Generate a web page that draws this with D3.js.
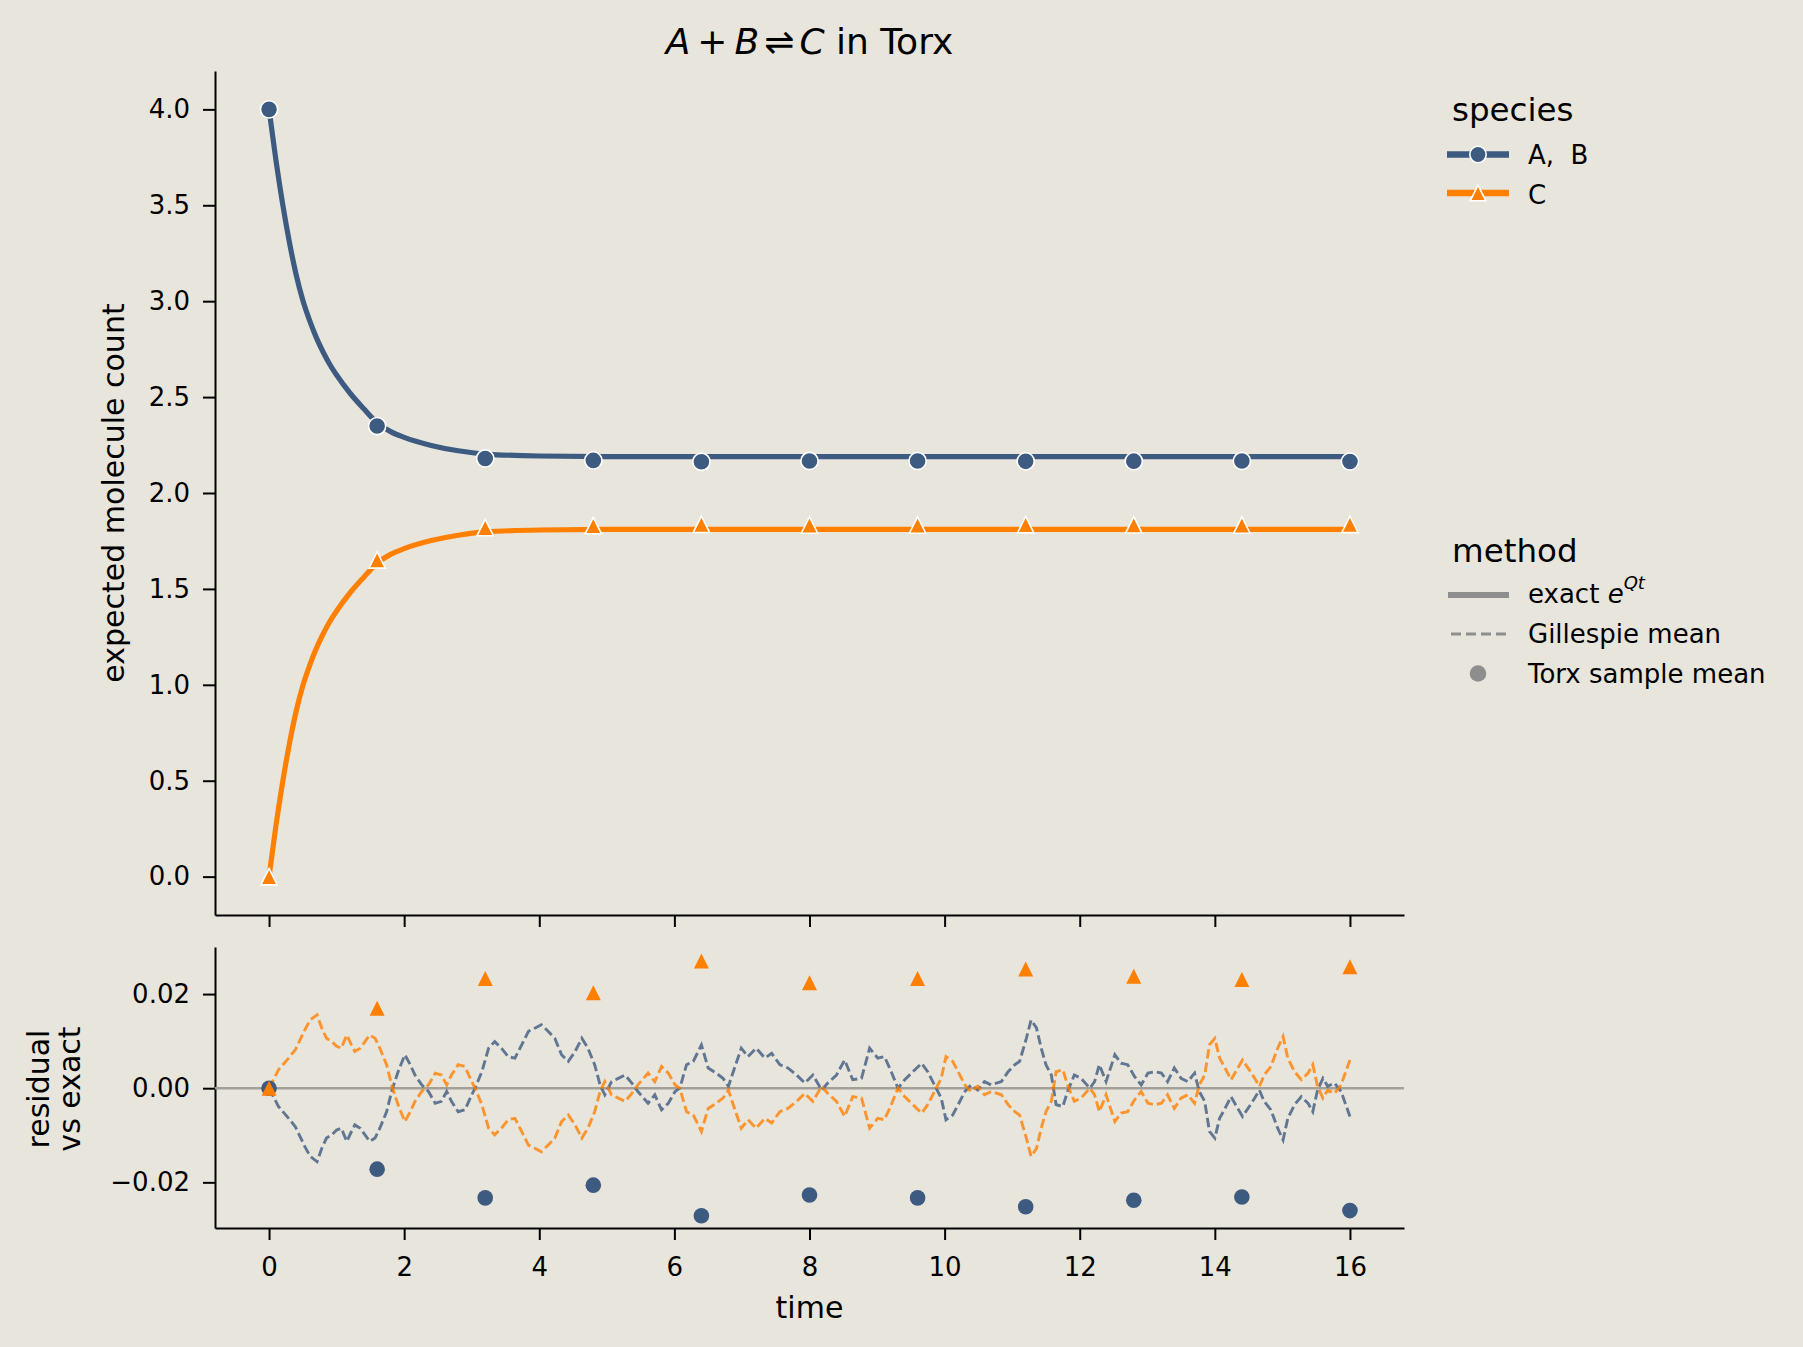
<!DOCTYPE html>
<html>
<head>
<meta charset="utf-8">
<script src="https://cdn.jsdelivr.net/npm/d3@7"></script>
<style>
  body { margin: 0; background: #e8e5dc; }
  svg text { font-family: "DejaVu Sans", sans-serif; fill: #000; }
</style>
</head>
<body>
<div class="chart"></div>
<script>
// ---- data ----
// exact e^{Qt} expectation
const exactT = [0, 0.1, 0.2, 0.3, 0.4, 0.5, 0.6, 0.7, 0.8, 0.9, 1.0, 1.2, 1.4, 1.6, 1.8, 2.0, 2.4, 2.8, 3.2, 4.0, 5.0, 6.0, 8.0, 10, 12, 14, 16];
const exactA = [4.0, 3.74, 3.51, 3.31, 3.14, 3.005, 2.90, 2.81, 2.735, 2.67, 2.615, 2.52, 2.44, 2.366, 2.32, 2.29, 2.248, 2.22, 2.203, 2.193, 2.19, 2.19, 2.19, 2.19, 2.19, 2.19, 2.19];
const exactC = [0.0, 0.26, 0.49, 0.69, 0.86, 0.995, 1.10, 1.19, 1.265, 1.33, 1.385, 1.48, 1.56, 1.634, 1.68, 1.71, 1.752, 1.78, 1.797, 1.807, 1.81, 1.81, 1.81, 1.81, 1.81, 1.81, 1.81];

// Torx sample means
const torxT = [0, 1.6, 3.2, 4.8, 6.4, 8.0, 9.6, 11.2, 12.8, 14.4, 16];
const torxA = [4.0, 2.349, 2.180, 2.170, 2.163, 2.167, 2.167, 2.165, 2.166, 2.167, 2.164];
const torxC = [0.0, 1.651, 1.820, 1.830, 1.837, 1.833, 1.833, 1.835, 1.834, 1.833, 1.836];
const torxResA = [0, -0.0172, -0.0233, -0.0206, -0.0271, -0.0227, -0.0233, -0.0252, -0.0238, -0.0231, -0.0260];
const torxResC = [0, 0.0170, 0.0233, 0.0203, 0.0270, 0.0224, 0.0233, 0.0253, 0.0238, 0.0231, 0.0258];

// Gillespie mean residual vs exact
const gillT = [0, 0.14, 0.29, 0.39, 0.53, 0.61, 0.71, 0.78, 0.85, 0.93, 1.0, 1.07, 1.15, 1.22, 1.27, 1.35, 1.42, 1.49, 1.57, 1.64,
  1.74, 1.82, 1.91, 2.01, 2.09, 2.16, 2.26, 2.36, 2.46, 2.55, 2.63, 2.70, 2.80, 2.90, 3.0, 3.05, 3.15, 3.25, 3.34, 3.44,
  3.54, 3.64, 3.74, 3.84, 3.94, 4.03, 4.13, 4.23, 4.33, 4.43, 4.53, 4.63, 4.72, 4.82, 4.90, 4.97, 5.07, 5.17, 5.27, 5.37,
  5.46, 5.61, 5.71, 5.81, 5.91, 6.01, 6.08, 6.18, 6.28, 6.40, 6.50, 6.62, 6.72, 6.80, 6.89, 6.99, 7.09, 7.21, 7.34, 7.44,
  7.56, 7.68, 7.81, 7.93, 8.05, 8.18, 8.27, 8.40, 8.52, 8.64, 8.77, 8.89, 9.01, 9.11, 9.21, 9.31, 9.41, 9.53, 9.66, 9.75,
  9.85, 9.95, 10.02, 10.12, 10.20, 10.30, 10.39, 10.49, 10.59, 10.69, 10.84, 10.94, 11.04, 11.11, 11.21, 11.28, 11.36, 11.43, 11.50, 11.58,
  11.65, 11.75, 11.82, 11.92, 12.02, 12.15, 12.22, 12.29, 12.39, 12.52, 12.61, 12.71, 12.81, 12.91, 13.01, 13.11, 13.21, 13.30, 13.40, 13.50,
  13.60, 13.70, 13.77, 13.85, 13.92, 14.00, 14.07, 14.14, 14.24, 14.34, 14.41, 14.51, 14.59, 14.66, 14.73, 14.83, 14.93, 15.01, 15.08, 15.18,
  15.28, 15.38, 15.45, 15.52, 15.60, 15.67, 15.77, 15.87, 15.92, 16.0];
const gillResC = [0, 0.0039, 0.0064, 0.0082, 0.0124, 0.0145, 0.0156, 0.0128, 0.0106, 0.0099, 0.0089, 0.0085, 0.0113, 0.0092, 0.0078, 0.0085, 0.0099, 0.0113, 0.0106, 0.0085,
  0.0050, 0.0004, -0.0035, -0.0071, -0.0050, -0.0028, -0.0007, 0.0007, 0.0032, 0.0028, 0.0007, 0.0028, 0.0050, 0.0046, 0.0014, 0.0, -0.0035, -0.0085, -0.0099, -0.0085,
  -0.0067, -0.0064, -0.0092, -0.0121, -0.0128, -0.0135, -0.0121, -0.0106, -0.0071, -0.0057, -0.0078, -0.0106, -0.0085, -0.0050, -0.0007, 0.0014, -0.0014, -0.0021, -0.0028, -0.0011,
  0.0007, 0.0032, 0.0014, 0.0046, 0.0032, 0.0007, 0.0, -0.0050, -0.0057, -0.0092, -0.0043, -0.0032, -0.0021, -0.0004, -0.0043, -0.0085, -0.0067, -0.0085, -0.0064, -0.0074,
  -0.0050, -0.0043, -0.0028, -0.0011, -0.0028, 0.0004, -0.0011, -0.0028, -0.0060, -0.0018, -0.0021, -0.0085, -0.0064, -0.0067, -0.0035, 0.0, -0.0018, -0.0035, -0.0053, -0.0035,
  -0.0007, 0.0021, 0.0067, 0.0057, 0.0035, 0.0007, -0.0007, 0.0004, -0.0014, -0.0007, -0.0014, -0.0035, -0.0050, -0.0057, -0.0106, -0.0145, -0.0128, -0.0085, -0.0050, -0.0028,
  0.0035, 0.0039, 0.0007, -0.0028, -0.0021, 0.0, -0.0014, -0.0050, -0.0014, -0.0071, -0.0053, -0.0050, -0.0025, -0.0007, -0.0032, -0.0035, -0.0032, -0.0014, -0.0043, -0.0021,
  -0.0014, -0.0032, 0.0007, 0.0028, 0.0092, 0.0106, 0.0064, 0.0046, 0.0018, 0.0043, 0.0060, 0.0039, 0.0021, 0.0004, 0.0028, 0.0046, 0.0085, 0.0110, 0.0064, 0.0035,
  0.0018, 0.0032, 0.0050, 0.0004, -0.0021, -0.0004, -0.0011, 0.0007, 0.0028, 0.0060];
const gillResA = [0, -0.0039, -0.0064, -0.0082, -0.0124, -0.0145, -0.0156, -0.0128, -0.0106, -0.0099, -0.0089, -0.0085, -0.0113, -0.0092, -0.0078, -0.0085, -0.0099, -0.0113, -0.0106, -0.0085,
  -0.0050, -0.0004, 0.0035, 0.0071, 0.0050, 0.0028, 0.0007, -0.0007, -0.0032, -0.0028, -0.0007, -0.0028, -0.0050, -0.0046, -0.0014, 0.0, 0.0035, 0.0085, 0.0099, 0.0085,
  0.0067, 0.0064, 0.0092, 0.0121, 0.0128, 0.0135, 0.0121, 0.0106, 0.0071, 0.0057, 0.0078, 0.0106, 0.0085, 0.0050, 0.0007, -0.0014, 0.0014, 0.0021, 0.0028, 0.0011,
  -0.0007, -0.0032, -0.0014, -0.0046, -0.0032, -0.0007, 0.0, 0.0050, 0.0057, 0.0092, 0.0043, 0.0032, 0.0021, 0.0004, 0.0043, 0.0085, 0.0067, 0.0085, 0.0064, 0.0074,
  0.0050, 0.0043, 0.0028, 0.0011, 0.0028, -0.0004, 0.0011, 0.0028, 0.0060, 0.0018, 0.0021, 0.0085, 0.0064, 0.0067, 0.0035, 0.0, 0.0018, 0.0035, 0.0053, 0.0035,
  0.0007, -0.0021, -0.0067, -0.0057, -0.0035, -0.0007, 0.0007, -0.0004, 0.0014, 0.0007, 0.0014, 0.0035, 0.0050, 0.0057, 0.0106, 0.0145, 0.0128, 0.0085, 0.0050, 0.0028,
  -0.0035, -0.0039, -0.0007, 0.0028, 0.0021, 0.0, 0.0014, 0.0050, 0.0014, 0.0071, 0.0053, 0.0050, 0.0025, 0.0007, 0.0032, 0.0035, 0.0032, 0.0014, 0.0043, 0.0021,
  0.0014, 0.0032, -0.0007, -0.0028, -0.0092, -0.0106, -0.0064, -0.0046, -0.0018, -0.0043, -0.0060, -0.0039, -0.0021, -0.0004, -0.0028, -0.0046, -0.0085, -0.0110, -0.0064, -0.0035,
  -0.0018, -0.0032, -0.0050, -0.0004, 0.0021, 0.0004, 0.0011, -0.0007, -0.0028, -0.0060];

const xTicks = [0, 2, 4, 6, 8, 10, 12, 14, 16];
const yTicksTop = [0, 0.5, 1.0, 1.5, 2.0, 2.5, 3.0, 3.5, 4.0];
const yTicksRes = [-0.02, 0, 0.02];

const colA = "#3d5a80";
const colC = "#ff7f00";

// ---- layout ----
var W = 1803, H = 1347;
var svg = d3.select(".chart").append("svg")
    .attr("width", W).attr("height", H)
    .style("background", "#e8e5dc");

var x = d3.scaleLinear().domain([-0.8, 16.8]).range([215, 1404]);
var yTop = d3.scaleLinear().domain([-0.2, 4.2]).range([915, 71]);
var yRes = d3.scaleLinear().domain([-0.0297, 0.0300]).range([1228, 947]);

function styleAxis(g) {
    g.select(".domain").attr("stroke", "#000").attr("stroke-width", 2);
    g.selectAll(".tick line").attr("stroke", "#000").attr("stroke-width", 2);
    g.selectAll(".tick text").style("font-size", "26px").style("font-family", "DejaVu Sans").attr("fill", "#000");
}

// triangle marker centred on its bounding box (matplotlib '^')
function tri(s) {
    return "M0," + (-s) + "L" + s + "," + s + "L" + (-s) + "," + s + "Z";
}

// ---- top panel ----
svg.append("g")
    .attr("transform", "translate(0," + 915 + ")")
    .call(d3.axisBottom(x).tickValues(xTicks).tickSize(12).tickSizeOuter(0).tickFormat(""))
    .call(styleAxis);
svg.append("g")
    .attr("transform", "translate(215,0)")
    .call(d3.axisLeft(yTop).tickValues(yTicksTop).tickSize(12).tickPadding(13).tickSizeOuter(0).tickFormat(d3.format(".1f")))
    .call(styleAxis);

var lineTop = d3.line().curve(d3.curveMonotoneX)
    .x(function(d) { return x(d[0]); })
    .y(function(d) { return yTop(d[1]); });

svg.append("path").datum(d3.zip(exactT, exactA))
    .attr("d", lineTop).attr("fill", "none").attr("stroke", colA).attr("stroke-width", 5.2);
svg.append("path").datum(d3.zip(exactT, exactC))
    .attr("d", lineTop).attr("fill", "none").attr("stroke", colC).attr("stroke-width", 5.2);

svg.selectAll(".mA").data(d3.zip(torxT, torxA)).enter().append("circle")
    .attr("cx", function(d) { return x(d[0]); })
    .attr("cy", function(d) { return yTop(d[1]); })
    .attr("r", 8.6).attr("fill", colA).attr("stroke", "#fff").attr("stroke-width", 1.6);
svg.selectAll(".mC").data(d3.zip(torxT, torxC)).enter().append("path")
    .attr("transform", function(d) { return "translate(" + x(d[0]) + "," + yTop(d[1]) + ")"; })
    .attr("d", tri(8.2)).attr("fill", colC).attr("stroke", "#fff").attr("stroke-width", 1.6);

// ---- residual panel ----
svg.append("g")
    .attr("transform", "translate(0," + 1228 + ")")
    .call(d3.axisBottom(x).tickValues(xTicks).tickSize(12).tickPadding(18).tickSizeOuter(0).tickFormat(d3.format("d")))
    .call(styleAxis);
svg.append("g")
    .attr("transform", "translate(215,0)")
    .call(d3.axisLeft(yRes).tickValues(yTicksRes).tickSize(12).tickPadding(13).tickSizeOuter(0).tickFormat(d3.format(".2f")))
    .call(styleAxis);

svg.append("line")
    .attr("x1", 215).attr("x2", 1404)
    .attr("y1", yRes(0)).attr("y2", yRes(0))
    .attr("stroke", "#a3a09a").attr("stroke-width", 2.6);

var lineRes = d3.line()
    .x(function(d) { return x(d[0]); })
    .y(function(d) { return yRes(d[1]); });

svg.append("path").datum(d3.zip(gillT, gillResA))
    .attr("d", lineRes).attr("fill", "none").attr("stroke", colA).attr("stroke-opacity", 0.8)
    .attr("stroke-width", 2.9).attr("stroke-dasharray", "9.5,4");
svg.append("path").datum(d3.zip(gillT, gillResC))
    .attr("d", lineRes).attr("fill", "none").attr("stroke", colC).attr("stroke-opacity", 0.8)
    .attr("stroke-width", 2.9).attr("stroke-dasharray", "9.5,4");

svg.selectAll(".rA").data(d3.zip(torxT, torxResA)).enter().append("circle")
    .attr("cx", function(d) { return x(d[0]); })
    .attr("cy", function(d) { return yRes(d[1]); })
    .attr("r", 7.8).attr("fill", colA);
svg.selectAll(".rC").data(d3.zip(torxT, torxResC)).enter().append("path")
    .attr("transform", function(d) { return "translate(" + x(d[0]) + "," + yRes(d[1]) + ")"; })
    .attr("d", tri(7.5)).attr("fill", colC);

// ---- labels ----
var title = svg.append("text").attr("x", 809.5).attr("y", 54)
    .attr("text-anchor", "middle").style("font-size", "36px");
title.append("tspan").style("font-style", "italic").text("A");
title.append("tspan").attr("dx", 7).text("+");
title.append("tspan").attr("dx", 7).style("font-style", "italic").text("B");
title.append("tspan").attr("dx", 5).text("\u21CC");
title.append("tspan").attr("dx", 5).style("font-style", "italic").text("C");
title.append("tspan").text(" in Torx");

svg.append("text")
    .attr("transform", "translate(124,493) rotate(-90)")
    .attr("text-anchor", "middle").style("font-size", "30px")
    .text("expected molecule count");
svg.append("text")
    .attr("transform", "translate(49,1089) rotate(-90)")
    .attr("text-anchor", "middle").style("font-size", "30px")
    .text("residual");
svg.append("text")
    .attr("transform", "translate(80,1089) rotate(-90)")
    .attr("text-anchor", "middle").style("font-size", "30px")
    .text("vs exact");
svg.append("text").attr("x", 809.5).attr("y", 1318)
    .attr("text-anchor", "middle").style("font-size", "30px").text("time");

// ---- legends ----
var lg = svg.append("g");
lg.append("text").attr("x", 1452).attr("y", 121).style("font-size", "32.5px").text("species");

lg.append("line").attr("x1", 1447).attr("x2", 1509).attr("y1", 154.5).attr("y2", 154.5)
    .attr("stroke", colA).attr("stroke-width", 6.5);
lg.append("circle").attr("cx", 1478).attr("cy", 154.5).attr("r", 8.2)
    .attr("fill", colA).attr("stroke", "#fff").attr("stroke-width", 1.6);
lg.append("text").attr("x", 1528).attr("y", 164).style("font-size", "26px")
    .style("white-space", "pre").text("A,  B");

lg.append("line").attr("x1", 1447).attr("x2", 1509).attr("y1", 193).attr("y2", 193)
    .attr("stroke", colC).attr("stroke-width", 6.5);
lg.append("path").attr("transform", "translate(1478,193)").attr("d", tri(7.8))
    .attr("fill", colC).attr("stroke", "#fff").attr("stroke-width", 1.6);
lg.append("text").attr("x", 1528).attr("y", 203.5).style("font-size", "26px").text("C");

lg.append("text").attr("x", 1452).attr("y", 562).style("font-size", "32.5px").text("method");

lg.append("line").attr("x1", 1448).attr("x2", 1509).attr("y1", 595).attr("y2", 595)
    .attr("stroke", "#8e8e8e").attr("stroke-width", 6);
var ex = lg.append("text").attr("x", 1528).attr("y", 603).style("font-size", "26px");
ex.append("tspan").text("exact ");
ex.append("tspan").style("font-style", "italic").text("e");
ex.append("tspan").attr("dy", -14).style("font-style", "italic").style("font-size", "18px").text("Qt");

lg.append("line").attr("x1", 1451).attr("x2", 1506).attr("y1", 634).attr("y2", 634)
    .attr("stroke", "#8e8e8e").attr("stroke-width", 3).attr("stroke-dasharray", "10,5");
lg.append("text").attr("x", 1528).attr("y", 643).style("font-size", "26px").text("Gillespie mean");

lg.append("circle").attr("cx", 1478).attr("cy", 673.5).attr("r", 8.3).attr("fill", "#8e8e8e");
lg.append("text").attr("x", 1528).attr("y", 683).style("font-size", "26px").text("Torx sample mean");
</script>
</body>
</html>
